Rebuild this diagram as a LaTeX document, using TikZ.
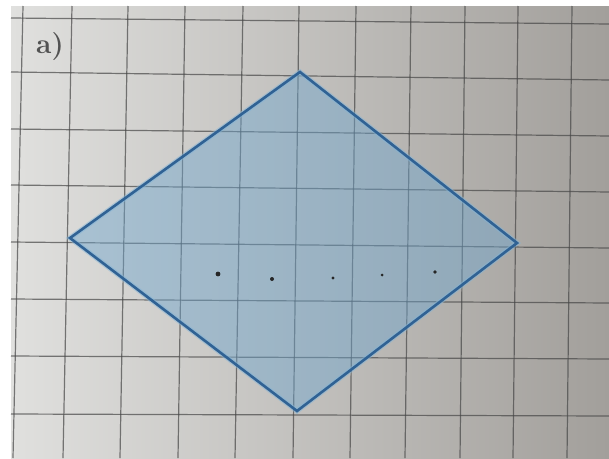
\documentclass[tikz,border=0pt]{standalone}
\definecolor{paperL}{RGB}{224,224,222}
\definecolor{paperR}{RGB}{162,159,155}
\definecolor{gridc}{RGB}{70,70,70}
\definecolor{rhfill}{RGB}{110,165,205}
\definecolor{rhline}{RGB}{48,98,148}
\definecolor{rhglow}{RGB}{130,180,215}
\begin{document}
\begin{tikzpicture}[x=1pt,y=-1pt,
  gridline/.style={draw=gridc, line width=1.2pt, opacity=0.7},
  dotmark/.style={fill=black!85}]
\useasboundingbox (0,0) rectangle (609,458);
\fill[white] (0,0) rectangle (609,458);
\shade[left color=paperL, right color=paperR] (11,6) rectangle (609,458);
% vertical grid lines (top x / bottom x)
\foreach \a/\b in {23/13,72/63,128/120,185/178,243/235,299/293,356/350,411/405,465/460,518/513,572/567}
  \draw[gridline] (\a,6) -- (\b,458);
% horizontal grid lines (left y / right y)
\foreach \a/\b in {18/24,72/80,129/136,185/192,242/248,299/303,356/359,414/416}
  \draw[gridline] (11,\a) -- (609,\b);
% rhombus
\coordinate (T) at (300,72);
\coordinate (R) at (517,243);
\coordinate (B) at (297,411);
\coordinate (L) at (70,238);
\fill[rhfill, opacity=0.45] (T) -- (R) -- (B) -- (L) -- cycle;
\draw[rhglow, line width=5pt, opacity=0.5, line join=miter] (T) -- (R) -- (B) -- (L) -- cycle;
\draw[rhline, line width=2.6pt, line join=miter] (T) -- (R) -- (B) -- (L) -- cycle;
% dots
\fill[dotmark] (218,274) circle (2.4);
\fill[dotmark] (272,279) circle (2.0);
\fill[dotmark] (333,278) circle (1.7);
\fill[dotmark] (382,275) circle (1.5);
\fill[dotmark] (435,272) circle (1.8);
% label
\node[text=black!68, font=\bfseries\fontsize{28}{28}\selectfont, inner sep=0pt] (lab) at (50,47) {a)};
\end{tikzpicture}
\end{document}
